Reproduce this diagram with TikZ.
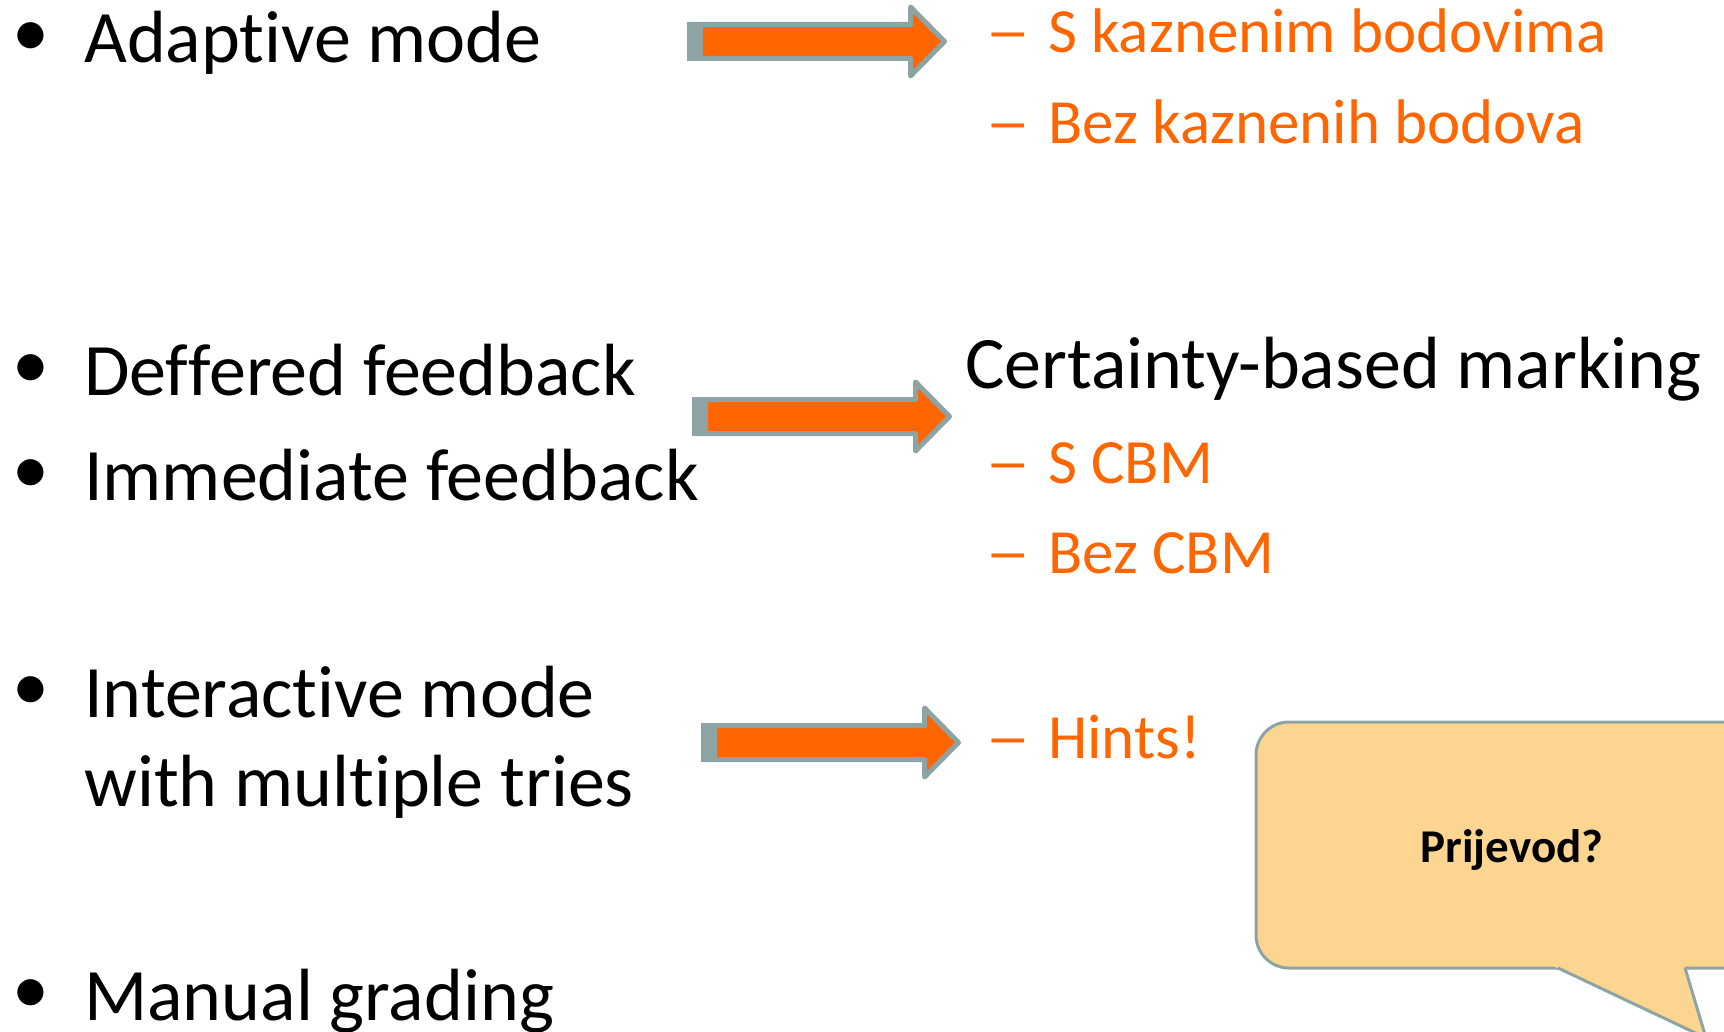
\documentclass[tikz,border=0pt]{standalone}
\usepackage{fontspec}
\setmainfont{Carlito}[Ligatures={CommonOff,ContextualOff}]
\usepackage{tikz}

\definecolor{slideorange}{HTML}{FF6600}
\definecolor{arrowgray}{HTML}{8DA3A4}
\definecolor{bubblefill}{HTML}{FCD690}

% keep t+i and f+f apart (no ligature glyphs)
\newcommand{\nolig}{\kern0pt}

\tikzset{
  item/.style={anchor=base west,inner sep=0pt,font=\fontsize{74}{89}\selectfont},
  subitem/.style={anchor=base west,inner sep=0pt,text=slideorange,font=\fontsize{63}{76}\selectfont},
  dot/.style={anchor=center,inner sep=0pt,font=\fontsize{74}{89}\selectfont},
  arrowbody/.style={draw=arrowgray,fill=slideorange,line width=5pt,line join=round},
  bubble/.style={draw=arrowgray,fill=bubblefill,line width=3pt}
}

\begin{document}
\begin{tikzpicture}[x=1pt,y=-1pt]
  \useasboundingbox (0,0) rectangle (1724,1032);
  \clip (0,0) rectangle (1724,1032);

  % left column
  \foreach \name/\by/\txt in {adaptive/63/Adapt\nolig ive mode,deffered/395/Def\nolig fered feedback,
      immediate/500/Immediate feedback,interactive/717/Interact\nolig ive mode,manual/1020/Manual grading}
  {
    \node[dot] (dot\name) at (31,\by-23) {•};
    \node[item] (\name) at (84,\by) {\txt};
  }
  \node[item] (tries) at (84,806) {with multiple tries};

  % block arrows
  \foreach \ax/\ay in {687/41.5,692/416.5,701/742.5}
  {
    \begin{scope}[shift={(\ax,\ay)}]
      \draw[arrowbody] (2.5,-17) -- (223.5,-17) -- (223.5,-34.5) -- (257.5,0)
        -- (223.5,34.5) -- (223.5,17) -- (2.5,17) -- cycle;
      \fill[arrowgray] (0,-19.5) rectangle (16,19.5);
    \end{scope}
  }

  % right column
  \node[item] (cbm) at (965,388) {Certainty-based marking};
  \foreach \name/\by/\txt in {skazn/53/S kaznenim bodovima,bezkazn/144/Bez kaznenih bodova,
      scbm/483/S CBM,bezcbm/573/Bez CBM,hints/758/Hints!}
  {
    \node[subitem] (dash\name) at (985,\by) {\scalebox{1.45}[1]{–}};
    \node[subitem] (\name) at (1048,\by) {\txt};
  }

  % speech bubble
  \draw[bubble,rounded corners=33pt] (1256,722) rectangle (1800,968);
  \fill[bubblefill] (1551,965) -- (1706,1038) -- (1684,965) -- cycle;
  \draw[bubble,fill=none,line join=round] (1558,968) -- (1706,1038) -- (1685,968);
  \node[anchor=base,inner sep=0pt,font=\fontsize{47}{56}\selectfont\bfseries] (prijevod) at (1512,862) {Prijevod?};
\end{tikzpicture}
\end{document}
